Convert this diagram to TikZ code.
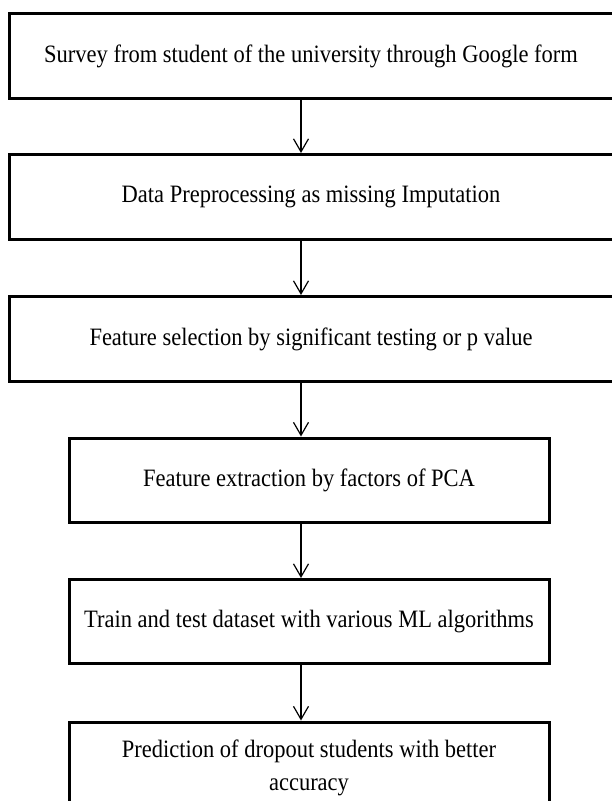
\documentclass[tikz,border=0pt]{standalone}
\usepackage{fontspec}
\setmainfont{Liberation Serif}[FakeStretch=0.9]
\usetikzlibrary{arrows.meta}

\begin{document}
\begin{tikzpicture}[x=1pt,y=-1pt,
        box/.style = {draw,line width=3pt,inner sep=0pt,
                      font=\fontsize{25}{33}\selectfont,align=center},
        wide/.style = {box,minimum width=604pt,minimum height=85pt},
        narrow/.style = {box,minimum width=480pt,minimum height=84pt},
        arrow/.style = {line width=1.2pt,-{Straight Barb[length=13pt,width=15pt,line width=1.2pt]}}]
                \useasboundingbox (0,0) rectangle (611,801);
                \coordinate (ax) at (301,0);

                \node[wide] (survey) at (311,56)
                    {Survey from student of the university through Google form};
                \node[wide] (prep) at (311,197)
                    {Data Preprocessing as missing Imputation};
                \node[wide] (select) at (311,339)
                    {Feature selection by significant testing or p value};
                \node[narrow] (extract) at (309,480)
                    {Feature extraction by factors of PCA};
                \node[narrow] (train) at (309,621.5)
                    {Train and test dataset with various ML algorithms};
                \node[narrow, minimum height=92pt] (predict) at (309,768)
                    {Prediction of dropout students with better\\accuracy};

                \draw[arrow] (survey.south -| ax) -- (prep.north -| ax);
                \draw[arrow] (prep.south -| ax) -- (select.north -| ax);
                \draw[arrow] (select.south -| ax) -- (extract.north -| ax);
                \draw[arrow] (extract.south -| ax) -- (train.north -| ax);
                \draw[arrow] (train.south -| ax) -- (predict.north -| ax);
            \end{tikzpicture}
\end{document}
